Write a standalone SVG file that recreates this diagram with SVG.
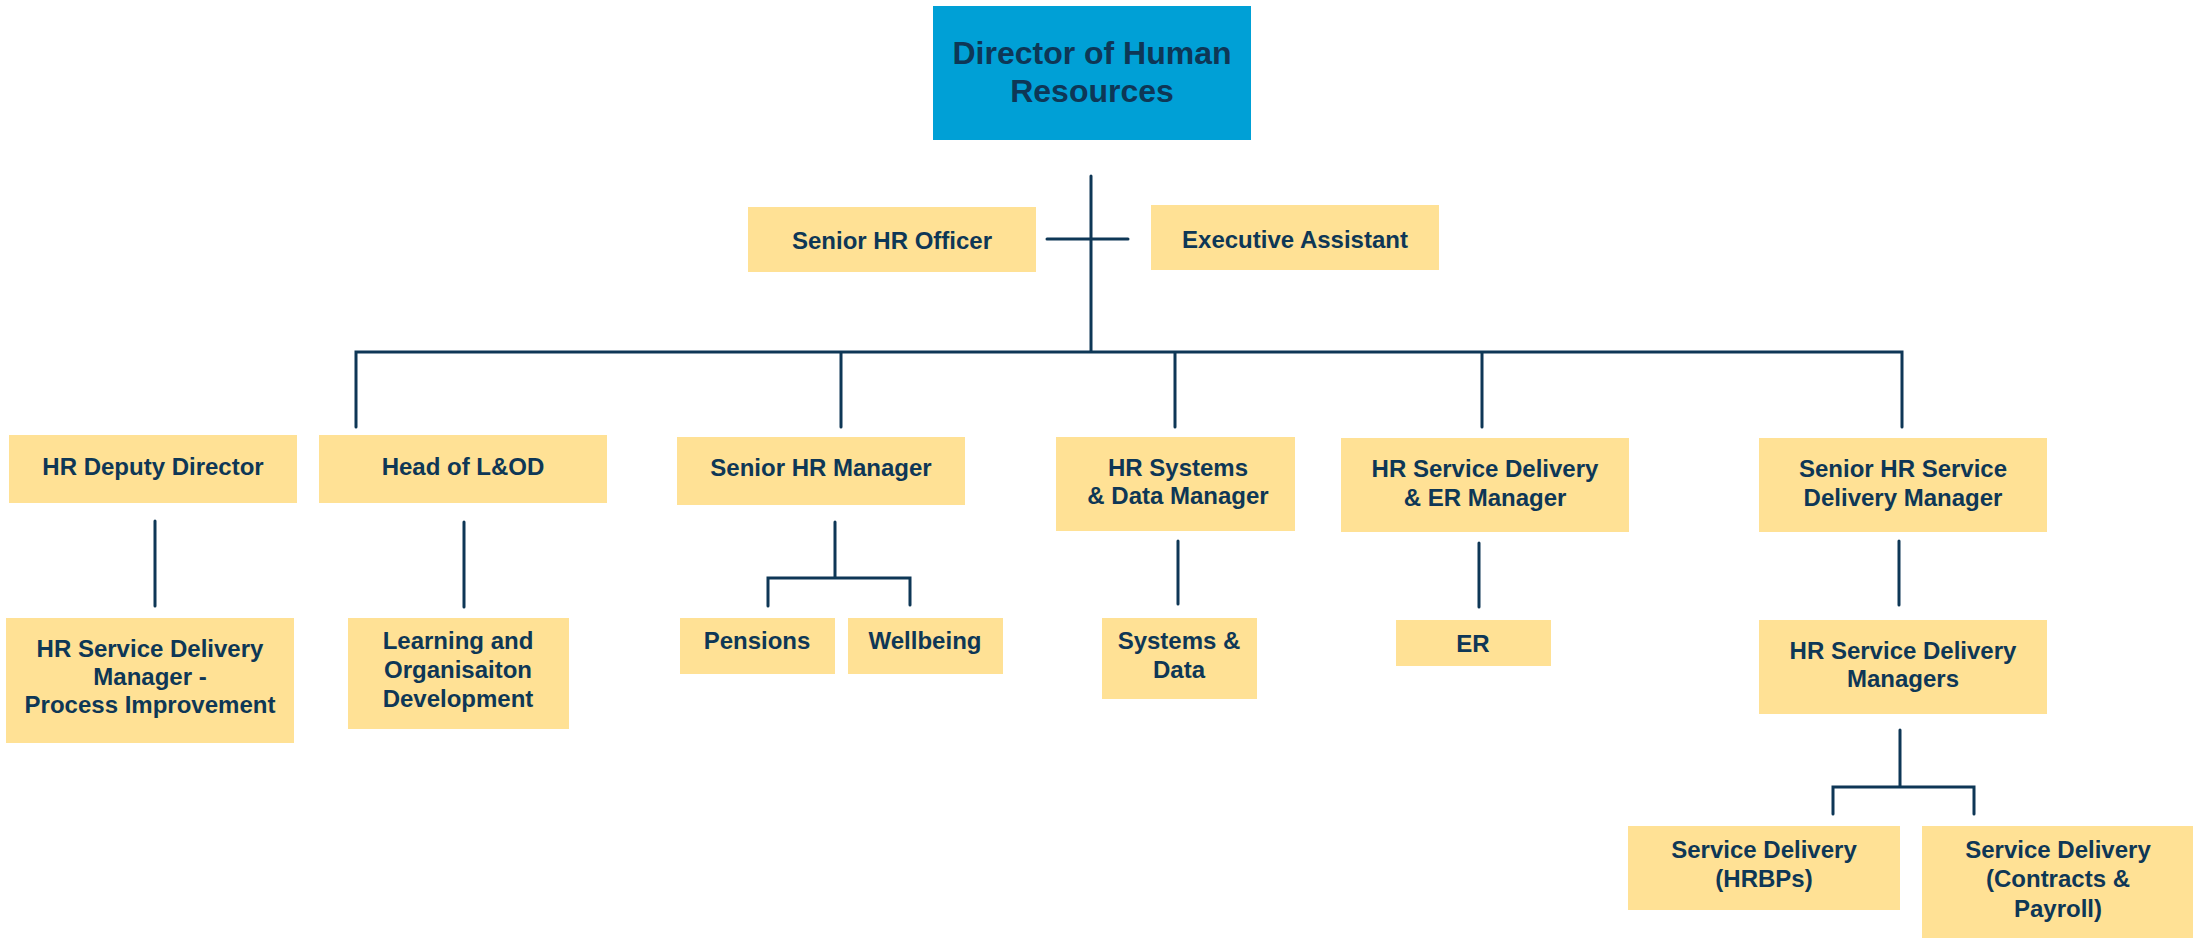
<svg xmlns="http://www.w3.org/2000/svg" width="2193" height="938" viewBox="0 0 2193 938">
<style>
.box{fill:#FFE195}
.top{fill:#00A0D6}
text{font-family:"Liberation Sans",Arial,sans-serif;font-weight:bold;fill:#0E3756;text-anchor:middle;font-size:24px}
.big{font-size:32px}
.ln{stroke:#0E3756;stroke-width:3;fill:none;stroke-linecap:round}
</style>
<rect width="2193" height="938" fill="#FFFFFF"/>
<g id="connectors" class="ln">
<path d="M1091 176V352M1047 239H1128M356 427V352H1902V427M841 352V427M1175 352V427M1482 352V427"/>
<path d="M155 521V606M464 522V607"/>
<path d="M835 522V578M768 606V578H910V605"/>
<path d="M1178 541V604M1479 543V607M1899 541V605"/>
<path d="M1900 730V787M1833 814V787H1974V814"/>
</g>
<g id="director"><rect class="top" x="933" y="6" width="318" height="134"/><text class="big" x="1092" y="64">Director of Human</text><text class="big" x="1092" y="102">Resources</text></g>
<g id="senior-hr-officer"><rect class="box" x="748" y="207" width="288" height="65"/><text x="892" y="249">Senior HR Officer</text></g>
<g id="executive-assistant"><rect class="box" x="1151" y="205" width="288" height="65"/><text x="1295" y="248">Executive Assistant</text></g>
<g id="hr-deputy-director"><rect class="box" x="9" y="435" width="288" height="68"/><text x="153" y="475">HR Deputy Director</text></g>
<g id="head-lod"><rect class="box" x="319" y="435" width="288" height="68"/><text x="463" y="475">Head of L&amp;OD</text></g>
<g id="senior-hr-manager"><rect class="box" x="677" y="437" width="288" height="68"/><text x="821" y="476">Senior HR Manager</text></g>
<g id="hr-systems"><rect class="box" x="1056" y="437" width="239" height="94"/><text x="1178" y="476">HR Systems</text><text x="1178" y="504">&amp; Data Manager</text></g>
<g id="hr-sd-er"><rect class="box" x="1341" y="438" width="288" height="94"/><text x="1485" y="477">HR Service Delivery</text><text x="1485" y="506">&amp; ER Manager</text></g>
<g id="senior-hr-sdm"><rect class="box" x="1759" y="438" width="288" height="94"/><text x="1903" y="477">Senior HR Service</text><text x="1903" y="506">Delivery Manager</text></g>
<g id="hr-sdm-pi"><rect class="box" x="6" y="618" width="288" height="125"/><text x="150" y="657">HR Service Delivery</text><text x="150" y="685">Manager -</text><text x="150" y="713">Process Improvement</text></g>
<g id="learning"><rect class="box" x="348" y="618" width="221" height="111"/><text x="458" y="649">Learning and</text><text x="458" y="678">Organisaiton</text><text x="458" y="707">Development</text></g>
<g id="pensions"><rect class="box" x="680" y="618" width="155" height="56"/><text x="757" y="649">Pensions</text></g>
<g id="wellbeing"><rect class="box" x="848" y="618" width="155" height="56"/><text x="925" y="649">Wellbeing</text></g>
<g id="systems-data"><rect class="box" x="1102" y="618" width="155" height="81"/><text x="1179" y="649">Systems &amp;</text><text x="1179" y="678">Data</text></g>
<g id="er"><rect class="box" x="1396" y="620" width="155" height="46"/><text x="1473" y="652">ER</text></g>
<g id="hr-sdms"><rect class="box" x="1759" y="620" width="288" height="94"/><text x="1903" y="659">HR Service Delivery</text><text x="1903" y="687">Managers</text></g>
<g id="sd-hrbps"><rect class="box" x="1628" y="826" width="272" height="84"/><text x="1764" y="858">Service Delivery</text><text x="1764" y="887">(HRBPs)</text></g>
<g id="sd-contracts"><rect class="box" x="1922" y="826" width="271" height="112"/><text x="2058" y="858">Service Delivery</text><text x="2058" y="887">(Contracts &amp;</text><text x="2058" y="917">Payroll)</text></g>
</svg>
